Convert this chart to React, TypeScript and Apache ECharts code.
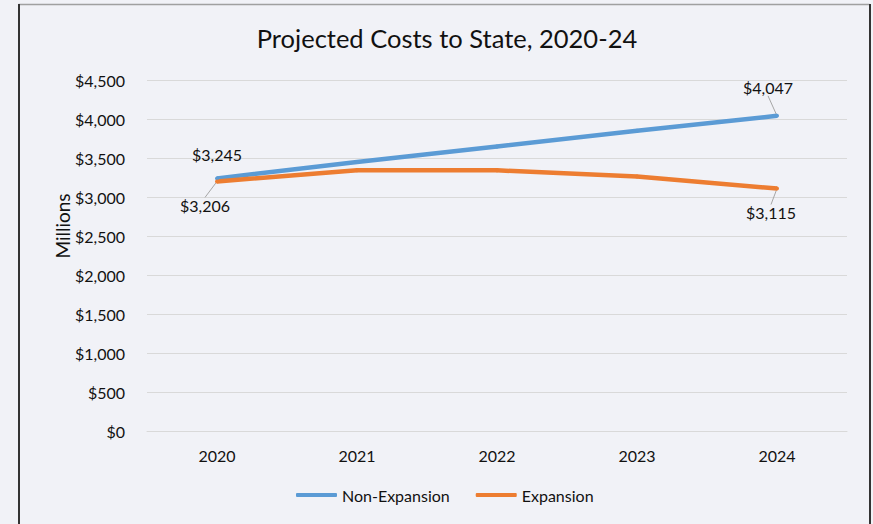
import React, { useEffect, useRef } from "react";
import * as echarts from "echarts";

const categories = ["2020", "2021", "2022", "2023", "2024"];
const nonExpansion = [3245, 3455, 3655, 3855, 4047];
const expansion = [3206, 3350, 3348, 3270, 3115];
const seriesNames = ["Non-Expansion", "Expansion"];
const titleText = "Projected Costs to State, 2020-24";
const yAxisName = "Millions";

const FONT = "Lato, 'Open Sans', sans-serif";
const BG = "#f1f2f7";

export default function App() {
  const ref = useRef<HTMLDivElement>(null);
  useEffect(() => {
    document.body.style.margin = "0";
    document.body.style.background = BG;
    if (!ref.current) return;
    const chart = echarts.init(ref.current, undefined, { renderer: "svg" });
    const fmt = (v: number) => "$" + Math.round(v).toLocaleString("en-US");
    const lastIdx = categories.length - 1;
    const mkData = (vals: number[], pos: string, hideFirstLine: boolean) =>
      vals.map((v, i) => {
        if (i === 0 || i === lastIdx) {
          const item: any = {
            value: v,
            label: { show: true, position: pos },
          };
          if (i === 0 && hideFirstLine) item.labelLine = { show: false };
          return item;
        }
        return { value: v };
      });
    const layouts: Record<string, { dx: number; dy: number }> = {
      "0-0": { dx: 0, dy: -9 },
      "0-4": { dx: -9, dy: -13 },
      "1-0": { dx: -12, dy: 9 },
      "1-4": { dx: -6, dy: 9 },
    };
    const common = {
      type: "line",
      symbol: "circle",
      symbolSize: 4,
      smooth: false,
      label: {
        show: false,
        fontFamily: FONT,
        fontSize: 16,
        color: "#111",
        formatter: (p: any) => fmt(p.value),
      },
      labelLine: { show: true, lineStyle: { color: "#a6a6a6", width: 1 } },
      labelLayout: (p: any) => {
        const k = p.seriesIndex + "-" + p.dataIndex;
        return layouts[k] || {};
      },
    };
    chart.setOption({
      animation: false,
      backgroundColor: BG,
      title: {
        text: titleText,
        left: 442,
        textAlign: "center",
        top: 20,
        textStyle: {
          fontFamily: FONT,
          fontSize: 25.5,
          fontWeight: "normal",
          color: "#111",
        },
      },
      grid: { left: 147, right: 26, top: 80.5, bottom: 92.5, containLabel: false },
      legend: {
        bottom: 16,
        left: 291,
        itemWidth: 41,
        itemHeight: 4,
        itemGap: 26,
        icon: "roundRect",
        textStyle: { fontFamily: FONT, fontSize: 16, color: "#111" },
        data: seriesNames,
      },
      xAxis: {
        type: "category",
        data: categories,
        boundaryGap: true,
        axisLine: { show: true, lineStyle: { color: "#d9d9d9" } },
        axisTick: { show: false },
        axisLabel: { fontFamily: FONT, fontSize: 16, color: "#111", margin: 16 },
      },
      yAxis: {
        type: "value",
        min: 0,
        max: 4500,
        interval: 500,
        axisLine: { show: false },
        axisTick: { show: false },
        splitLine: { lineStyle: { color: "#d9d9d9", width: 1 } },
        axisLabel: {
          fontFamily: FONT,
          fontSize: 16,
          color: "#111",
          margin: 22,
          formatter: (v: number) => fmt(v),
        },
      },
      graphic: [
        {
          type: "text",
          x: 62,
          y: 226,
          rotation: Math.PI / 2,
          style: {
            text: yAxisName,
            fontFamily: FONT,
            fontSize: 19,
            fill: "#111",
            textAlign: "center",
            textVerticalAlign: "middle",
          },
        },
        {
          type: "line",
          shape: { x1: 18.5, y1: 4.5, x2: 869.5, y2: 4.5 },
          style: { stroke: "#a0a0a0", lineWidth: 1.5 },
        },
        {
          type: "line",
          shape: { x1: 19, y1: 4, x2: 19, y2: 524 },
          style: { stroke: "#333", lineWidth: 2 },
        },
        {
          type: "line",
          shape: { x1: 870, y1: 4, x2: 870, y2: 524 },
          style: { stroke: "#333", lineWidth: 2 },
        },
      ],
      series: [
        {
          ...common,
          name: seriesNames[0],
          data: mkData(nonExpansion, "top", true),
          itemStyle: { color: "#5b9bd5" },
          lineStyle: { color: "#5b9bd5", width: 4.5 },
        },
        {
          ...common,
          name: seriesNames[1],
          data: mkData(expansion, "bottom", false),
          itemStyle: { color: "#ed7d31" },
          lineStyle: { color: "#ed7d31", width: 4.5 },
        },
      ],
    });
    return () => chart.dispose();
  }, []);
  return <div ref={ref} style={{ width: 873, height: 524 }} />;
}
